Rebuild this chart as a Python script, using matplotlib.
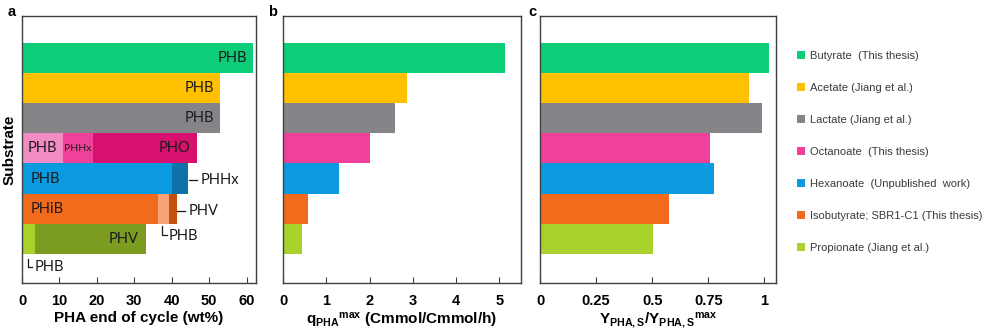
import numpy as np
import matplotlib
matplotlib.use("Agg")
import matplotlib.pyplot as plt

plt.rcParams['font.family'] = ['Liberation Sans', 'DejaVu Sans']
plt.rcParams['mathtext.fontset'] = 'custom'
plt.rcParams['mathtext.rm'] = 'Liberation Sans:bold'
plt.rcParams['mathtext.bf'] = 'Liberation Sans:bold'
plt.rcParams['mathtext.default'] = 'bf'

# substrates, bottom to top
substrates = ['Propionate (Jiang et al.)', 'Isobutyrate; SBR1-C1 (This thesis)',
              'Hexanoate  (Unpublished  work)', 'Octanoate  (This thesis)',
              'Lactate (Jiang et al.)', 'Acetate (Jiang et al.)', 'Butyrate  (This thesis)']
colors = ['#a8d12c', '#f26a1c', '#0b9ae0', '#f0419a', '#858489', '#ffc000', '#0dcd78']

# panel a: stacked PHA composition (wt%), segments left to right
seg_vals = [
    [3.4, 29.7],            # propionate: PHB, PHV
    [36.3, 3.0, 2.0],       # isobutyrate: PHiB, PHB, PHV
    [40.1, 4.3],            # hexanoate: PHB, PHHx
    [10.9, 8.0, 27.8],      # octanoate: PHB, PHHx, PHO
    [53.0],                 # lactate
    [53.0],                 # acetate
    [61.8],                 # butyrate
]
seg_colors = [
    ['#a8d12c', '#7b9c21'],
    ['#f26a1c', '#f8a27a', '#c4500c'],
    ['#0b9ae0', '#0e72a8'],
    ['#f38cc4', '#f0419a', '#d7126e'],
    ['#858489'],
    ['#ffc000'],
    ['#0dcd78'],
]

# panel b: q_PHA max
q_max = [0.44, 0.57, 1.30, 2.00, 2.59, 2.86, 5.13]
# panel c: relative yield
y_rel = [0.504, 0.574, 0.776, 0.758, 0.99, 0.93, 1.02]

fig = plt.figure(figsize=(9.92, 3.31), dpi=100)
ax1 = fig.add_axes([0.0222, 0.145, 0.2359, 0.8067])
ax2 = fig.add_axes([0.2853, 0.145, 0.2399, 0.8067])
ax3 = fig.add_axes([0.5444, 0.145, 0.2379, 0.8067])

ypos = np.arange(len(substrates))
spine_col = '#404040'

for ax in (ax1, ax2, ax3):
    ax.set_ylim(-1.47, 7.4)
    ax.set_yticks([])
    for s in ax.spines.values():
        s.set_color(spine_col)
        s.set_linewidth(1.0)
    ax.tick_params(axis='x', direction='in', length=4, color=spine_col,
                   labelsize=10.5, pad=8)
    for lab in ax.get_xticklabels():
        lab.set_fontweight('bold')

# panel a
for i in range(len(substrates)):
    left = 0
    for v, c in zip(seg_vals[i], seg_colors[i]):
        ax1.barh(ypos[i], v, left=left, height=1.0, color=c, linewidth=0)
        left += v
ax1.set_xlim(0, 62.5)
ax1.set_xticks([0, 10, 20, 30, 40, 50, 60])
for lab in ax1.get_xticklabels():
    lab.set_fontweight('bold')
ax1.set_xlabel('PHA end of cycle (wt%)', fontsize=11, fontweight='bold', labelpad=2)
ax1.set_ylabel('Substrate', fontsize=11, fontweight='bold', labelpad=4)

tf = dict(family=['Lato', 'DejaVu Sans'], fontsize=10.5, color='#1a1a1a', va='center')
ax1.text(61.8 - 1.8, 6, 'PHB', ha='right', **tf)
ax1.text(53.0 - 1.8, 5, 'PHB', ha='right', **tf)
ax1.text(53.0 - 1.8, 4, 'PHB', ha='right', **tf)
ax1.text(5.5, 3, 'PHB', ha='center', **tf)
ax1.text(15.0, 3, 'PHHx', ha='center', family=['Lato', 'DejaVu Sans'], fontsize=7.5,
         color='#1a1a1a', va='center')
ax1.text(46.7 - 1.8, 3, 'PHO', ha='right', **tf)
ax1.text(2.3, 2, 'PHB', ha='left', **tf)
ax1.text(2.3, 1, 'PHiB', ha='left', **tf)
ax1.text(33.1 - 2.0, 0, 'PHV', ha='right', **tf)

# side labels with leader lines
ax1.plot([44.6, 46.7], [1.95, 1.95], color='#1a1a1a', lw=0.9)
ax1.text(47.6, 1.95, 'PHHx', ha='left', **tf)
ax1.plot([41.5, 43.6], [0.92, 0.92], color='#1a1a1a', lw=0.9)
ax1.text(44.6, 0.92, 'PHV', ha='left', **tf)
ax1.plot([37.4, 37.4, 38.6], [0.42, 0.12, 0.12], color='#1a1a1a', lw=0.9)
ax1.text(39.2, 0.10, 'PHB', ha='left', **tf)
ax1.plot([1.5, 1.5, 2.7], [-0.68, -0.93, -0.93], color='#1a1a1a', lw=0.9)
ax1.text(3.3, -0.95, 'PHB', ha='left', **tf)

# panel b
ax2.barh(ypos, q_max, height=1.0, color=colors, linewidth=0)
ax2.set_xlim(0, 5.5)
ax2.set_xticks([0, 1, 2, 3, 4, 5])
for lab in ax2.get_xticklabels():
    lab.set_fontweight('bold')
ax2.set_xlabel(r'q$_{\mathrm{PHA}}$$^{\mathrm{max}}$ (Cmmol/Cmmol/h)', fontsize=11,
               fontweight='bold', labelpad=2)

# panel c
ax3.barh(ypos, y_rel, height=1.0, color=colors, linewidth=0)
ax3.set_xlim(0, 1.052)
ax3.set_xticks([0, 0.25, 0.5, 0.75, 1])
ax3.set_xticklabels(['0', '0.25', '0.5', '0.75', '1'])
for lab in ax3.get_xticklabels():
    lab.set_fontweight('bold')
ax3.set_xlabel(r'Y$_{\mathrm{PHA,S}}$/Y$_{\mathrm{PHA,S}}$$^{\mathrm{max}}$', fontsize=11,
               fontweight='bold', labelpad=2)

# panel letters
for ax, letter, xoff in ((ax1, 'a', 0.0121), (ax2, 'b', 0.2752), (ax3, 'c', 0.5363)):
    fig.text(xoff, 0.963, letter, fontsize=10.5, fontweight='bold', ha='center', va='center')

# legend
for i, (name, c) in enumerate(zip(substrates, colors)):
    yfig = 1 - (55 + (6 - i) * 32.05) / 331
    fig.patches.append(plt.Rectangle((797 / 992, yfig - 4 / 331), 8 / 992, 8 / 331,
                                     transform=fig.transFigure, color=c, lw=0))
    fig.text(810 / 992, yfig - 1 / 331, name, fontsize=8, color='#3a3a3a',
             ha='left', va='center')

fig.savefig('out.png', dpi=100)
